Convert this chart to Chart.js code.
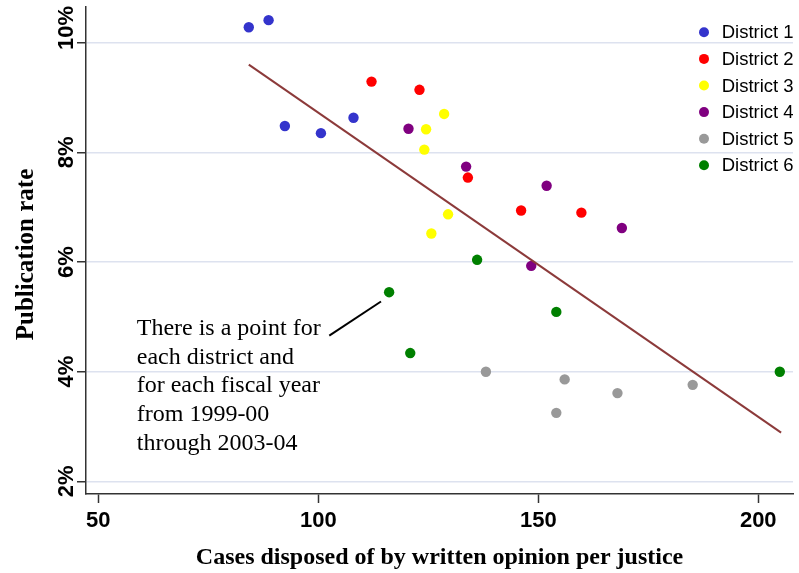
<!DOCTYPE html>
<html>
<head>
<meta charset="utf-8">
<script src="https://cdn.jsdelivr.net/npm/chart.js@4.4.1/dist/chart.umd.min.js"></script>
<style>
  html, body { margin: 0; padding: 0; background: #fff; }
  canvas { display: block; }
</style>
</head>
<body>
<canvas id="c" width="799" height="573"></canvas>
<script>
// Publication rate vs. written-opinion caseload, one point per district per fiscal year
const districtNames = ['District 1', 'District 2', 'District 3', 'District 4', 'District 5', 'District 6'];

const d1Cases = [84.2, 88.7, 92.4, 100.6, 108.0];
const d1Rate  = [10.28, 10.41, 8.48, 8.35, 8.63];

const d2Cases = [112.1, 123.0, 134.0, 146.1, 159.8];
const d2Rate  = [9.29, 9.14, 7.54, 6.94, 6.90];

const d3Cases = [128.6, 124.5, 124.1, 129.5, 125.7];
const d3Rate  = [8.70, 8.42, 8.05, 6.87, 6.52];

const d4Cases = [120.5, 133.6, 151.9, 169.0, 148.4];
const d4Rate  = [8.43, 7.74, 7.39, 6.62, 5.93];

const d5Cases = [138.1, 156.0, 168.0, 185.1, 154.1];
const d5Rate  = [4.00, 3.86, 3.61, 3.76, 3.25];

const d6Cases = [136.1, 116.1, 154.1, 120.9, 204.9];
const d6Rate  = [6.04, 5.45, 5.09, 4.34, 4.00];

// Fitted line endpoints
const fitCases = [84.2, 205.2];
const fitRate  = [9.60, 2.89];

const xTicks = [50, 100, 150, 200];
const yTicks = [2, 4, 6, 8, 10];
const yTickLabels = ['2%', '4%', '6%', '8%', '10%'];

const noteLines = [
  'There is a point for',
  'each district and',
  'for each fiscal year',
  'from 1999-00',
  'through 2003-04'
];

const districtColors = ['#3434cc', '#ff0000', '#ffff00', '#800080', '#999999', '#008000'];

const casesBy = [d1Cases, d2Cases, d3Cases, d4Cases, d5Cases, d6Cases];
const rateBy  = [d1Rate, d2Rate, d3Rate, d4Rate, d5Rate, d6Rate];

const pairs = (xs, ys) => xs.map((x, i) => ({ x: x, y: ys[i] }));

const datasets = [{
  type: 'line',
  label: 'Fit',
  data: pairs(fitCases, fitRate),
  borderColor: '#8c3a3a',
  borderWidth: 2,
  pointRadius: 0,
  fill: false,
  order: 0
}];
districtNames.forEach((name, i) => {
  datasets.push({
    type: 'scatter',
    label: name,
    data: pairs(casesBy[i], rateBy[i]),
    backgroundColor: districtColors[i],
    borderColor: districtColors[i],
    borderWidth: 0,
    pointRadius: 5.2,
    pointHoverRadius: 5.2,
    order: 1
  });
});

const AXIS_DARK = '#333333';
const SANS = '"Liberation Sans", Arial, sans-serif';
const SERIF = '"Liberation Serif", "Times New Roman", serif';

// Rotated y tick labels, axis titles, in-plot legend and the callout note
const decorations = {
  id: 'decorations',
  afterDraw(chart) {
    const { ctx, chartArea, scales } = chart;
    const xs = scales.x, ys = scales.y;
    ctx.save();

    // y tick labels, reading bottom to top; the topmost one sits flush with the plot top
    ctx.font = 'bold 22px ' + SANS;
    ctx.fillStyle = '#000';
    ctx.textAlign = 'center';
    ctx.textBaseline = 'alphabetic';
    const last = yTicks.length - 1;
    yTicks.forEach((v, i) => {
      const label = yTickLabels[i];
      const w = ctx.measureText(label).width;
      let cy = ys.getPixelForValue(v);
      if (i === last) cy = chartArea.top - 1 + w / 2;
      ctx.save();
      ctx.translate(73, cy);
      ctx.rotate(-Math.PI / 2);
      ctx.fillText(label, 0, 0);
      ctx.restore();
    });

    // y axis title
    ctx.save();
    ctx.font = 'bold 25px ' + SERIF;
    ctx.translate(33, (chartArea.top + chartArea.bottom) / 2 + 4);
    ctx.rotate(-Math.PI / 2);
    ctx.textAlign = 'center';
    ctx.textBaseline = 'alphabetic';
    ctx.fillText('Publication rate', 0, 0);
    ctx.restore();

    // x axis title
    ctx.font = 'bold 24px ' + SERIF;
    ctx.textAlign = 'center';
    ctx.textBaseline = 'alphabetic';
    ctx.fillText('Cases disposed of by written opinion per justice', (chartArea.left + chartArea.right) / 2, 564);

    // legend
    ctx.font = '18.5px ' + SANS;
    ctx.textAlign = 'left';
    ctx.textBaseline = 'middle';
    districtNames.forEach((name, i) => {
      const y = 32.3 + i * 26.6;
      ctx.beginPath();
      ctx.arc(704, y, 5, 0, Math.PI * 2);
      ctx.fillStyle = districtColors[i];
      ctx.fill();
      ctx.fillStyle = '#000';
      ctx.fillText(name, 721.7, y + 1);
    });

    // callout note, anchored in data space
    const nx = xs.getPixelForValue(58.73);
    const ny = ys.getPixelForValue(4.785);
    ctx.font = '24px ' + SERIF;
    ctx.fillStyle = '#000';
    ctx.textAlign = 'left';
    ctx.textBaseline = 'middle';
    noteLines.forEach((t, i) => ctx.fillText(t, nx, ny + i * 28.75));

    ctx.beginPath();
    ctx.moveTo(xs.getPixelForValue(102.5), ys.getPixelForValue(4.658));
    ctx.lineTo(xs.getPixelForValue(114.25), ys.getPixelForValue(5.28));
    ctx.strokeStyle = '#000';
    ctx.lineWidth = 2;
    ctx.stroke();

    ctx.restore();
  }
};

new Chart(document.getElementById('c'), {
  data: { datasets: datasets },
  options: {
    responsive: false,
    animation: false,
    layout: { padding: { top: 7, right: 6, left: 0, bottom: 0 } },
    plugins: {
      legend: { display: false },
      tooltip: { enabled: false }
    },
    scales: {
      x: {
        type: 'linear',
        min: 47.2,
        max: 207.9,
        afterBuildTicks: (s) => { s.ticks = xTicks.map(v => ({ value: v })); },
        afterFit: (s) => { s.height = 79; },
        border: { display: true, color: AXIS_DARK, width: 1.5 },
        grid: {
          display: true,
          drawOnChartArea: false,
          drawTicks: true,
          tickLength: 9,
          tickColor: AXIS_DARK,
          tickWidth: 1.5
        },
        ticks: {
          color: '#000',
          font: { family: SANS, size: 22, weight: 'bold' },
          padding: 5,
          maxRotation: 0,
          minRotation: 0
        }
      },
      y: {
        type: 'linear',
        min: 1.77,
        max: 10.65,
        afterBuildTicks: (s) => { s.ticks = yTicks.map(v => ({ value: v })); },
        afterFit: (s) => { s.width = 86; },
        border: { display: true, color: AXIS_DARK, width: 1.5 },
        grid: {
          display: true,
          drawOnChartArea: true,
          color: '#dde2ef',
          lineWidth: 1.5,
          drawTicks: true,
          tickLength: 9,
          tickColor: AXIS_DARK,
          tickWidth: 1.5
        },
        ticks: { display: false }
      }
    }
  },
  plugins: [decorations]
});
</script>
</body>
</html>
